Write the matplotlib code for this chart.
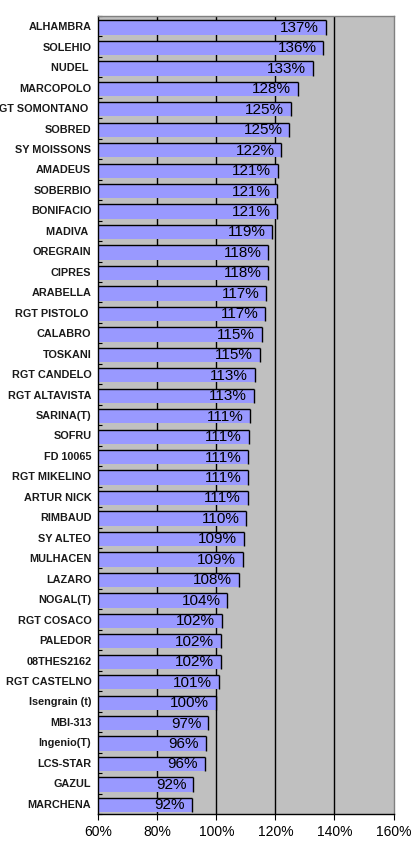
import matplotlib
matplotlib.use("Agg")
import matplotlib.pyplot as plt
from matplotlib import font_manager
import numpy as np

categories = ["ALHAMBRA", "SOLEHIO", "NUDEL ", "MARCOPOLO", "RGT SOMONTANO ", "SOBRED",
              "SY MOISSONS", "AMADEUS", "SOBERBIO", "BONIFACIO", "MADIVA ", "OREGRAIN",
              "CIPRES", "ARABELLA", "RGT PISTOLO ", "CALABRO", "TOSKANI", "RGT CANDELO",
              "RGT ALTAVISTA", "SARINA(T)", "SOFRU", "FD 10065", "RGT MIKELINO", "ARTUR NICK",
              "RIMBAUD", "SY ALTEO", "MULHACEN", "LAZARO", "NOGAL(T)", "RGT COSACO",
              "PALEDOR", "08THES2162", "RGT CASTELNO", "Isengrain (t)", "MBI-313",
              "Ingenio(T)", "LCS-STAR", "GAZUL", "MARCHENA"]
values = [137.0, 136.2, 132.6, 127.6, 125.3, 124.7, 122.0, 120.8, 120.6, 120.6,
          119.0, 117.6, 117.6, 116.8, 116.6, 115.3, 114.7, 113.0, 112.7, 111.4,
          111.0, 110.8, 110.8, 110.6, 110.2, 109.3, 108.9, 107.6, 103.7, 101.8,
          101.6, 101.6, 100.8, 99.8, 97.2, 96.4, 96.0, 92.1, 91.7]
x_ticks = [60, 80, 100, 120, 140, 160]

names = {f.name for f in font_manager.fontManager.ttflist}
label_family = "Liberation Sans Narrow" if "Liberation Sans Narrow" in names else "Liberation Sans"
label_size = 8.6 if label_family == "Liberation Sans Narrow" else 7.8

W, H = 411, 841
fig = plt.figure(figsize=(W / 100, H / 100), dpi=100)
ax = fig.add_axes([98.3 / W, 1 - 814 / H, (393.5 - 98.3) / W, (814 - 16) / H])
ax.set_facecolor("#C0C0C0")

n = len(categories)
y = np.arange(n)
vals = np.array(values)
h = 0.70
off = 0.06
ax.set_xlim(60, 160)
ax.set_ylim(n - 0.5, -0.5)

for gx in x_ticks[1:-1]:
    ax.axvline(gx, color="black", lw=1.0, zorder=1)

ax.barh(y + off, vals, height=h, color="#9999FF", edgecolor="none", zorder=2)
ax.hlines(y + off - h / 2, 0, vals, color="black", lw=1.0, zorder=3)
ax.vlines(vals, y + off - h / 2, y + off + h / 2, color="black", lw=1.0, zorder=3)

for yi, v in zip(y, vals):
    ax.text(v - 2.3, yi + off + 0.02, f"{v:.0f}%", ha="right", va="center",
            fontsize=11, family="Liberation Sans", color="black", zorder=4)

ax.set_yticks(y)
ax.set_yticklabels(categories, fontsize=label_size, fontweight="bold",
                   family=label_family, color="#1a1a1a")
ax.tick_params(axis="y", length=0, pad=5)
ax.set_yticks(np.arange(n + 1) - 0.5, minor=True)
ax.tick_params(axis="y", which="minor", direction="in", length=3, color="black", width=0.8)

ax.set_xticks(x_ticks)
ax.set_xticklabels([f"{t}%" for t in x_ticks], fontsize=10, family="Liberation Sans")
ax.tick_params(axis="x", direction="out", length=4, pad=4, color="black", width=0.8)

for s in ["left", "bottom"]:
    ax.spines[s].set_color("black")
    ax.spines[s].set_linewidth(1.0)
for s in ["top", "right"]:
    ax.spines[s].set_color("#808080")
    ax.spines[s].set_linewidth(1.0)

fig.savefig("out.png", dpi=100)
